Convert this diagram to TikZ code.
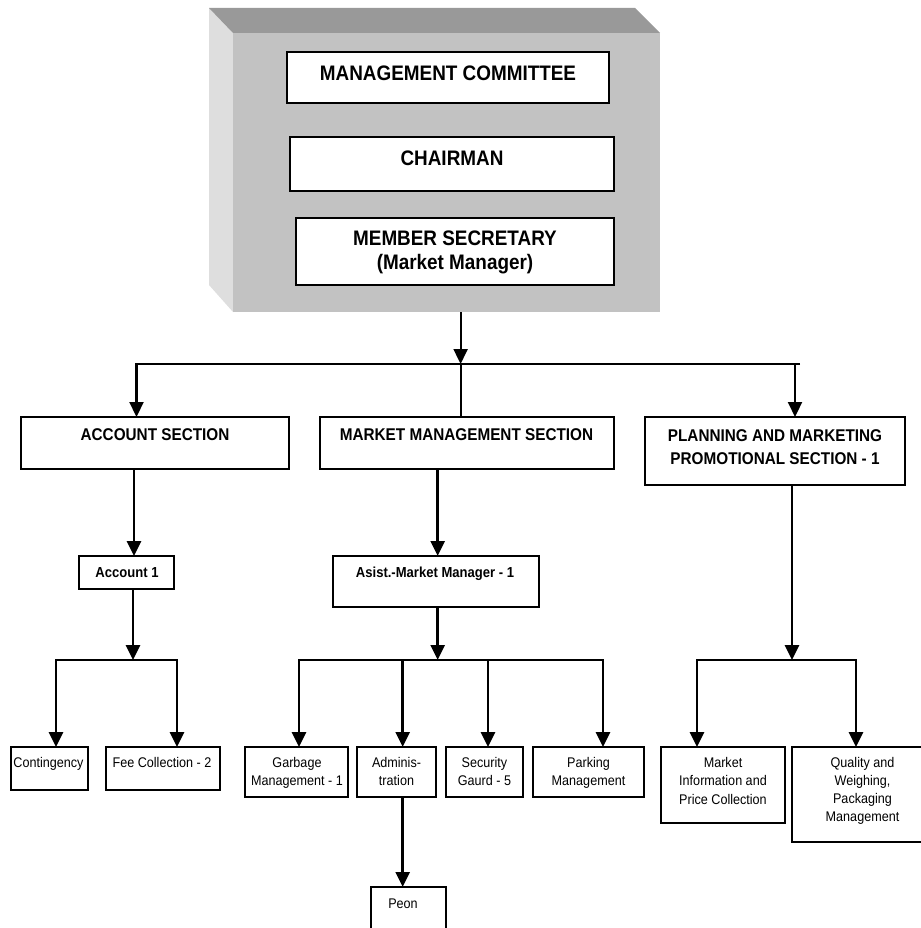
\documentclass[tikz,border=0pt]{standalone}
\usepackage{fontspec}
\setmainfont{Liberation Sans}[FakeStretch=0.9]
\usetikzlibrary{arrows.meta}
\definecolor{topc}{gray}{0.60}
\definecolor{frontc}{gray}{0.76}
\definecolor{sidec}{gray}{0.87}
\newcommand\obox[5]{\node[box, minimum width={#4-#2}, minimum height={#5-#3}] (#1) at (#2,#3) {};}
\newcommand\otxt[5]{\node[#4] (#1) at (#2,#3) {#5};}
\begin{document}
\begin{tikzpicture}[x=1pt,y=-1pt,
  box/.style={draw=black, line width=2.5pt, fill=white, anchor=north west, inner sep=0pt, outer sep=0pt},
  connT/.style={line width=2.2pt},
  conn/.style={line width=2.8pt},
  arrT/.style={connT, -{Triangle[width=14pt,length=15pt]}},
  arr/.style={conn, -{Triangle[width=14pt,length=15pt]}},
  ttop/.style={font=\bfseries\fontsize{21}{25}\selectfont, anchor=base, inner sep=0pt},
  tsec/.style={font=\bfseries\fontsize{17}{20}\selectfont, anchor=base, inner sep=0pt},
  tmid/.style={font=\bfseries\fontsize{14.5}{17}\selectfont, anchor=base, inner sep=0pt},
  tsml/.style={font=\fontsize{14}{17}\selectfont, anchor=base, inner sep=0pt}
]
\useasboundingbox (0,0) rectangle (920,928);
% 3D board
\fill[sidec] (209,8) -- (233,33) -- (233,312) -- (209,285) -- cycle;
\fill[topc] (209,8) -- (635,8) -- (660,33) -- (233,33) -- cycle;
\node[anchor=north west, fill=frontc, inner sep=0pt, outer sep=0pt, minimum width=427pt, minimum height=279pt] (board) at (233,33) {};
% boxes
\obox{mc}{287}{52}{609}{103}
\obox{ch}{290}{137}{614}{191}
\obox{ms}{296}{218}{614}{285}
\obox{acc}{21}{417}{289}{469}
\obox{mms}{320}{417}{614}{469}
\obox{pmp}{645}{417}{905}{485}
\obox{a1}{79}{556}{174}{589}
\obox{asm}{333}{556}{539}{607}
\obox{cont}{11}{747}{88}{790}
\obox{fee}{106}{747}{220}{790}
\obox{garb}{245}{747}{348}{797}
\obox{adm}{357}{747}{436}{797}
\obox{sec}{446}{747}{523}{797}
\obox{park}{533}{747}{644}{797}
\obox{mip}{661}{747}{785}{823}
\obox{qwp}{792}{747}{934}{842}
\obox{peon}{371}{887}{446}{940}
% texts
\otxt{mc-t}{448}{81}{ttop}{MANAGEMENT COMMITTEE}
\otxt{ch-t}{452}{166}{ttop}{CHAIRMAN}
\otxt{ms-t1}{455}{245.7}{ttop}{MEMBER SECRETARY}
\otxt{ms-t2}{455}{269.5}{ttop}{(Market Manager)}
\otxt{acc-t}{155}{440.7}{tsec}{ACCOUNT SECTION}
\otxt{mms-t}{466.5}{440.7}{tsec}{MARKET MANAGEMENT SECTION}
\otxt{pmp-t1}{775}{441}{tsec}{PLANNING AND MARKETING}
\otxt{pmp-t2}{775}{464}{tsec}{PROMOTIONAL SECTION - 1}
\otxt{a1-t}{127}{577.7}{tmid}{Account 1}
\otxt{asm-t}{435}{577.7}{tmid}{Asist.-Market Manager - 1}
\otxt{cont-t}{48.5}{767.5}{tsml}{Contingency}
\otxt{fee-t}{162}{767.5}{tsml}{Fee Collection - 2}
\otxt{garb-t1}{297}{767.5}{tsml}{Garbage}
\otxt{garb-t2}{297}{785.7}{tsml}{Management - 1}
\otxt{adm-t1}{396.5}{767.5}{tsml}{Adminis-}
\otxt{adm-t2}{396.5}{785.7}{tsml}{tration}
\otxt{sec-t1}{484.5}{767.5}{tsml}{Security}
\otxt{sec-t2}{484.5}{785.7}{tsml}{Gaurd - 5}
\otxt{park-t1}{588.5}{767.5}{tsml}{Parking}
\otxt{park-t2}{588.5}{785.7}{tsml}{Management}
\otxt{mip-t1}{723}{767.5}{tsml}{Market}
\otxt{mip-t2}{723}{785.7}{tsml}{Information and}
\otxt{mip-t3}{723}{804}{tsml}{Price Collection}
\otxt{qwp-t1}{862.5}{767.5}{tsml}{Quality and}
\otxt{qwp-t2}{862.5}{785.7}{tsml}{Weighing,}
\otxt{qwp-t3}{862.5}{803.5}{tsml}{Packaging}
\otxt{qwp-t4}{862.5}{821}{tsml}{Management}
\otxt{peon-t}{403}{908}{tsml}{Peon}
% junction coordinates
\coordinate (hub) at (460.6,364);
\coordinate (barL) at (136.5,364);
\coordinate (barR) at (800,364);
\coordinate (barP) at (795,364);
\coordinate (ax) at (134,500);
\coordinate (mx) at (437.7,500);
\coordinate (j1) at (133,660);
\coordinate (j1L) at (56,660);
\coordinate (j1R) at (177,660);
\coordinate (j2) at (437.7,660);
\coordinate (j2L) at (299,660);
\coordinate (j2R) at (603,660);
\coordinate (d2) at (402.7,660);
\coordinate (d3) at (488,660);
\coordinate (j3) at (792,660);
\coordinate (j3L) at (697,660);
\coordinate (j3R) at (856,660);
% top connectors
\draw[arrT] (hub |- board.south) -- (hub);
\draw[arrT] (barR) -- (barL) -- (barL |- acc.north);
\draw[connT] (hub) -- (hub |- mms.north);
\draw[arrT] (barP) -- (barP |- pmp.north);
% account column
\draw[arr] (ax |- acc.south) -- (ax |- a1.north);
\draw[arr] (j1 |- a1.south) -- (j1);
\draw[arr] (j1) -- (j1L) -- (j1L |- cont.north);
\draw[arr] (j1) -- (j1R) -- (j1R |- fee.north);
% market management column
\draw[arr] (mx |- mms.south) -- (mx |- asm.north);
\draw[arr] (j2 |- asm.south) -- (j2);
\draw[arr] (j2) -- (j2L) -- (j2L |- garb.north);
\draw[arr] (j2) -- (j2R) -- (j2R |- park.north);
\draw[arr] (d2) -- (d2 |- adm.north);
\draw[arr] (d3) -- (d3 |- sec.north);
\draw[arr] (d2 |- adm.south) -- (d2 |- peon.north);
% planning column
\draw[arr] (j3 |- pmp.south) -- (j3);
\draw[arr] (j3) -- (j3L) -- (j3L |- mip.north);
\draw[arr] (j3) -- (j3R) -- (j3R |- qwp.north);
\end{tikzpicture}
\end{document}
